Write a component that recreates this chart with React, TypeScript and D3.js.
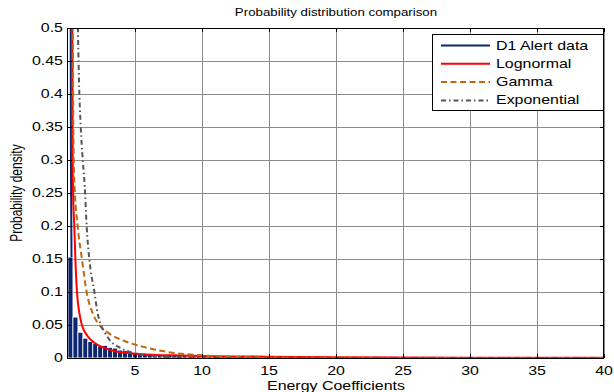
import React, { useRef, useEffect } from 'react';
import * as d3 from 'd3';

// histogram of D1 alert data (bin width 0.37, bins start at 0)
const binWidth = 0.37;
const d1Bins = [
  0.153, 0.062, 0.039, 0.030, 0.025, 0.022, 0.018, 0.019, 0.016, 0.015,
  0.012, 0.011, 0.009, 0.008, 0.007, 0.007, 0.006, 0.006, 0.005, 0.005,
  0.005, 0.004, 0.004, 0.004, 0.003, 0.003, 0.003, 0.003, 0.002, 0.002,
  0.002, 0.002, 0.002, 0.002, 0.002, 0.001, 0.002, 0, 0.002, 0.002, 0.002,
];
// the data line that shoots above the top of the axes
const d1Line: [number, number][] = [[0.19, 0.62], [0.22, 0.3], [0.26, 0.153]];

const lognormal: [number, number][] = [
  [0.32, 0.52], [0.35, 0.3], [0.38, 0.25], [0.47, 0.2], [0.55, 0.15], [0.67, 0.1],
  [0.85, 0.068], [1.04, 0.05], [1.47, 0.033], [1.97, 0.023], [2.6, 0.016],
  [3.6, 0.01], [4.8, 0.007], [6.3, 0.005], [8, 0.004], [10, 0.003], [15, 0.002],
  [20, 0.001], [30, 0.0005], [40, 0.0003],
];
const gamma: [number, number][] = [
  [0.36, 0.52], [0.4, 0.35], [0.47, 0.27], [0.72, 0.2], [1.04, 0.15], [1.39, 0.1],
  [1.84, 0.068], [2.34, 0.05], [3.08, 0.037], [4.3, 0.025], [5.8, 0.016],
  [7.8, 0.008], [10, 0.004], [13, 0.0015], [17, 0.0005], [25, 0.0001], [40, 0],
];
const exponential: [number, number][] = [
  [0.72, 0.52], [0.82, 0.42], [0.95, 0.35], [1.1, 0.3], [1.25, 0.26], [1.39, 0.2],
  [1.59, 0.15], [1.97, 0.1], [2.21, 0.068], [2.46, 0.05], [2.79, 0.037],
  [3.2, 0.025], [3.83, 0.016], [4.8, 0.008], [6, 0.004], [8, 0.001],
  [10, 0.0003], [15, 0], [40, 0],
];

const xTicks = [5, 10, 15, 20, 25, 30, 35, 40];
const yTicks = [0, 0.05, 0.1, 0.15, 0.2, 0.25, 0.3, 0.35, 0.4, 0.45, 0.5];
const yTickLabels = ['0', '0.05', '0.1', '0.15', '0.2', '0.25', '0.3', '0.35', '0.4', '0.45', '0.5'];

const legendNames = ['D1 Alert data', 'Lognormal', 'Gamma', 'Exponential'];
const navy = '#0d2673';
const red = '#ff0000';
const orange = '#c0660e';
const grey = '#555555';

const App = () => {
  const svgRef = useRef(null);

  useEffect(() => {
    const svg = d3.select(svgRef.current);
    svg.selectAll('*').remove();

    const width = 614;
    const height = 392;
    const margin = { top: 28, right: 10, bottom: 34, left: 68 };
    const sx = 1.33; // the picture's text is stretched sideways
    const font = 'Liberation Sans, Arial, sans-serif';

    const x = d3.scaleLinear().domain([0, 40]).range([margin.left, width - margin.right]);
    const y = d3.scaleLinear().domain([0, 0.5]).range([height - margin.bottom, margin.top]);

    svg.attr('width', width).attr('height', height);
    svg.append('rect').attr('width', width).attr('height', height).attr('fill', '#fff');

    svg.append('clipPath').attr('id', 'plotclip')
      .append('rect')
      .attr('x', x(0)).attr('y', y(0.5))
      .attr('width', x(40) - x(0)).attr('height', y(0) - y(0.5));

    // grid
    const grid = svg.append('g').attr('stroke', '#8c8c8c').attr('stroke-width', 1);
    grid.selectAll('line.gx').data(xTicks).join('line')
      .attr('x1', d => Math.round(x(d)) + 0.5).attr('x2', d => Math.round(x(d)) + 0.5)
      .attr('y1', y(0)).attr('y2', y(0.5));
    grid.selectAll('line.gy').data(yTicks.slice(1)).join('line')
      .attr('y1', d => Math.round(y(d)) + 0.5).attr('y2', d => Math.round(y(d)) + 0.5)
      .attr('x1', x(0)).attr('x2', x(40));

    const plot = svg.append('g').attr('clip-path', 'url(#plotclip)');

    // bars
    plot.selectAll('rect.bar').data(d1Bins).join('rect')
      .attr('x', (d, i) => x(i * binWidth))
      .attr('width', x(binWidth) - x(0))
      .attr('y', d => y(d))
      .attr('height', d => y(0) - y(d))
      .attr('fill', navy)
      .attr('stroke', '#fff')
      .attr('stroke-width', 0.8);

    const line = d3.line<[number, number]>()
      .x(d => x(d[0]))
      .y(d => y(d[1]))
      .curve(d3.curveMonotoneX);

    plot.append('path').datum(d1Line).attr('d', line)
      .attr('fill', 'none').attr('stroke', navy).attr('stroke-width', 2);
    plot.append('path').datum(lognormal).attr('d', line)
      .attr('fill', 'none').attr('stroke', red).attr('stroke-width', 2);
    plot.append('path').datum(gamma).attr('d', line)
      .attr('fill', 'none').attr('stroke', orange).attr('stroke-width', 2)
      .attr('stroke-dasharray', '6,3.5');
    plot.append('path').datum(exponential).attr('d', line)
      .attr('fill', 'none').attr('stroke', grey).attr('stroke-width', 2)
      .attr('stroke-dasharray', '5,3,1.5,3');

    // axes box + inward ticks
    svg.append('rect')
      .attr('x', x(0) - 0.5).attr('y', y(0.5) + 0.5)
      .attr('width', x(40) - x(0)).attr('height', y(0) - y(0.5))
      .attr('fill', 'none').attr('stroke', '#000').attr('stroke-width', 1);
    const ticks = svg.append('g').attr('stroke', '#000').attr('stroke-width', 1);
    xTicks.forEach(t => {
      const px = Math.round(x(t)) + 0.5;
      ticks.append('line').attr('x1', px).attr('x2', px).attr('y1', y(0)).attr('y2', y(0) - 4);
      ticks.append('line').attr('x1', px).attr('x2', px).attr('y1', y(0.5)).attr('y2', y(0.5) + 4);
    });
    yTicks.forEach(t => {
      const py = Math.round(y(t)) + 0.5;
      ticks.append('line').attr('x1', x(0)).attr('x2', x(0) + 4).attr('y1', py).attr('y2', py);
      ticks.append('line').attr('x1', x(40)).attr('x2', x(40) - 4).attr('y1', py).attr('y2', py);
    });

    const label = (tx: number, ty: number, str: string, anchor: string, size: number) =>
      svg.append('text')
        .attr('transform', `translate(${tx},${ty}) scale(${sx},1)`)
        .attr('text-anchor', anchor)
        .attr('font-family', font)
        .attr('font-size', size)
        .attr('fill', '#000')
        .text(str);

    xTicks.forEach(t => label(x(t), y(0) + 17, String(t), 'middle', 12));
    yTicks.forEach((t, i) => label(x(0) - 5, y(t) + 4, yTickLabels[i], 'end', 12));

    label((x(0) + x(40)) / 2, 16, 'Probability distribution comparison', 'middle', 10);
    label((x(0) + x(40)) / 2, 390, 'Energy Coefficients', 'middle', 12);
    svg.append('text')
      .attr('transform', `translate(22,${(y(0) + y(0.5)) / 2}) rotate(-90) scale(1,${sx})`)
      .attr('text-anchor', 'middle')
      .attr('font-family', font)
      .attr('font-size', 12)
      .text('Probability density');

    // legend
    const lg = svg.append('g');
    lg.append('rect')
      .attr('x', 432.5).attr('y', 34.5).attr('width', 171).attr('height', 76)
      .attr('fill', '#fff').attr('stroke', '#000').attr('stroke-width', 1);
    const styles = [
      { c: navy, dash: null },
      { c: red, dash: null },
      { c: orange, dash: '6,3.5' },
      { c: grey, dash: '5,3,1.5,3' },
    ];
    legendNames.forEach((name, i) => {
      const ly = 45.5 + i * 18.3;
      lg.append('line')
        .attr('x1', 441).attr('x2', 490).attr('y1', ly).attr('y2', ly)
        .attr('stroke', styles[i].c).attr('stroke-width', 2)
        .attr('stroke-dasharray', styles[i].dash);
      label(496, ly + 4, name, 'start', 12);
    });
  }, []);

  return (
    <svg ref={svgRef} style={{ position: 'absolute', left: 0, top: 0 }}></svg>
  );
};

export default App;
